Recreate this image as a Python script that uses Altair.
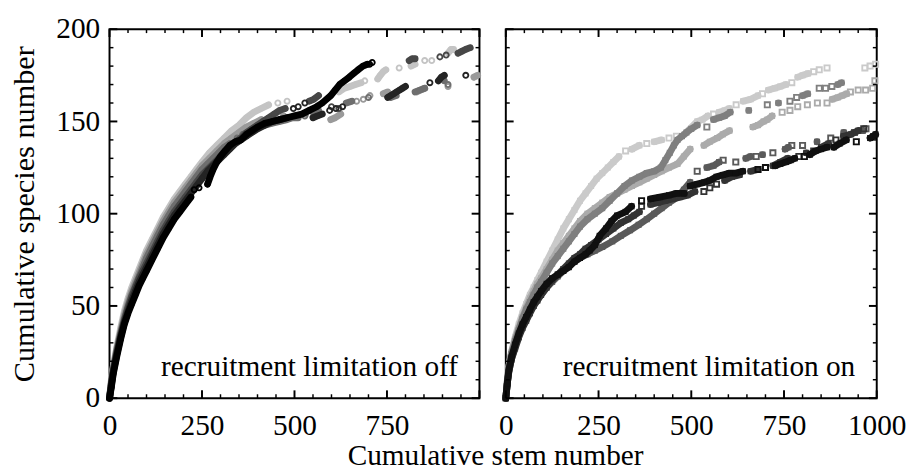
import altair as alt
import pandas as pd

# ---------------- data ----------------
X_MAJOR = [0, 250, 500, 750, 1000]
X_MINOR = [50, 100, 150, 200, 300, 350, 400, 450, 550, 600, 650, 700, 800, 850, 900, 950]
Y_MAJOR = [0, 50, 100, 150, 200]
Y_MINOR = [10, 20, 30, 40, 60, 70, 80, 90, 110, 120, 130, 140, 160, 170, 180, 190]
X_LABELS_LEFT = [0, 250, 500, 750]
X_LABELS_RIGHT = [0, 250, 500, 750, 1000]

ANNOT_LEFT = ["recruitment limitation off"]
ANNOT_RIGHT = ["recruitment limitation on"]
X_TITLE = "Cumulative stem number"
Y_TITLE = "Cumulative species number"

# flags: n = filled (new run), f = filled (continues run), o = open symbol
# ---- left panel (circles), recruitment limitation off ----
LA_x = [0,5,10,20,30,40,50,60,70,80,90,100,115,130,145,160,175,190,205,220,
        235,250,270,290,310,330,350,370,390,410,430, 455,480, 620,635,650,665,680,
        690, 725,732,740,747, 783, 815,826, 852,871, 915,923,930]
LA_y = [0,10,17,28,38,47,54,60,65,70,75,80,86,92,98,103,108,112,116,120,
        124,128,133,137,141,145,148,152,155,157,159, 160,161, 166,168,169,170,171,
        172, 173,175,177,178, 179, 180,181, 183,183, 187,189,189]
LA_f = "n" + "f"*30 + "oo" + "nffff" + "o" + "nfff" + "o" + "nf" + "oo" + "nff"

LB_x = [0,5,10,20,30,40,50,60,70,80,90,100,115,130,145,160,175,190,205,220,
        235,250,270,290,310,330,350,370,390,410, 440,470,500,530,560, 598,610,625,
        668,686,704, 740,752, 830,840,852, 915, 985,995]
LB_y = [0,9,16,27,36,45,52,58,63,68,73,78,84,90,96,101,106,110,114,118,
        122,126,130,134,138,141,144,147,149,151, 152,153,153,154,155, 151,152,154,
        161,162,164, 165,166, 166,167,168, 169, 174,175]
LB_f = "n" + "f"*29 + "ofofo" + "nff" + "ooo" + "nf" + "nff" + "o" + "nf"

LC_x = [0,5,10,20,30,40,50,60,70,80,90,100,115,130,145,160,175,190,205,220,
        235,250,265,280,295,310,325, 345,360, 380,400,420,440,460,480,495,510,
        528, 550,565, 640,655, 700, 760,775, 826,839,852, 905,915]
LC_y = [0,8,15,26,35,43,50,56,61,66,71,76,82,88,94,99,104,108,112,116,
        120,124,127,130,133,136,138, 141,143, 145,147,148,149,150,151,152,152,
        153, 155,156, 160,161, 163, 163,164, 166,167,168, 172,170]
LC_f = "n" + "f"*26 + "oo" + "nfffffff" + "o" + "nf" + "nf" + "o" + "nf" + "nff" + "no"

LD_x = [0,5,10,20,30,40,50,60,70,80,90,100,115,130,145,160,175,190,205,220,
        235,250,265,280,295,310,325,340,355,370,385,400,415,430,445,460,475,
        540,552,565, 600,620, 810,818,826, 893,910, 942,952,962,975]
LD_y = [0,8,15,25,34,42,49,55,60,65,69,73,79,85,91,96,101,105,109,113,
        117,121,124,127,130,133,136,139,141,144,146,148,150,152,154,156,157,
        161,162,164, 158,157, 183,184,184, 185,186, 187,188,189,190]
LD_f = "n" + "f"*36 + "nff" + "oo" + "nff" + "oo" + "nfff"

LE_x = [0,5,10,20,30,40,50,60,70,80,90,100,115,130,145,160,175,190,205,220,
        235,250,265,280,295,310,325,340,355,370,385,400,420,440,460,480,
        497,510,528, 550,562,575, 595,612,630, 752,760,768,776,784,792,800,
        866, 889,897,905, 963]
LE_y = [0,7,14,24,33,41,47,53,58,63,67,71,77,83,89,94,99,103,107,111,
        115,119,123,126,129,132,135,138,140,142,144,146,148,150,151,152,
        157,158,160, 152,153,154, 156,157,158, 163,164,165,166,167,168,169,
        171, 172,174,175, 175]
LE_f = "n" + "f"*35 + "ooo" + "nff" + "ooo" + "nffffff" + "o" + "nff" + "o"

LF_x = [0,5,10,20,30,40,50,60,70,80,90,100,115,130,145,160,175,190,205,220,
        229,242, 265,272,280,290,300,312,325,340,355,370,385,400,420,440,460,480,
        500,520,540,560,575,598,610,622,635,648,660,672,685,697, 703,710]
LF_y = [0,6,13,23,32,40,46,51,56,61,65,69,75,81,87,92,97,101,105,109,
        113,114, 116,120,124,128,131,134,137,139,140,143,145,147,149,150,151,152,
        153,154,156,158,160,164,167,170,172,174,176,178,180,181, 181,182]
LF_f = "n" + "f"*19 + "oo" + "n" + "f"*29 + "oo"

# ---- right panel (squares), recruitment limitation on ----
RA_x = [0,4,8,15,25,35,45,55,65,75,85,95,110,125,140,155,170,185,200,
        215,230,245,260,275,290,305, 323,340,360,380,400,420,440,460,481,
        516,530,545,560,575,590,603, 621,640,660,680,692, 708,725,740,755,771,
        787,800,815,830,845,866, 968,982,997]
RA_y = [0,10,17,25,33,40,46,51,56,60,64,68,74,80,86,92,97,102,107,
        111,115,119,122,125,128,131, 134,135,137,138,139,140,141,142,143,
        150,151,153,154,155,156,157, 159,161,162,164,165, 167,168,169,170,171,
        174,175,176,177,178,179, 179,180,181]
RA_f = "n" + "f"*25 + "onfonfoon" + "fffofff" + "offfo" + "nfffo" + "nffooo" + "ooo"

RB_x = [0,4,8,15,25,35,45,55,65,75,85,95,110,125,140,155,170,185,200,
        220,240,260,280,300,320,340,360,380,400,418,430,442,453,463,475,487,500,516,
        542, 560,575,590,605, 655, 705, 735, 766,784, 800,814, 845,862,879, 895,905]
RB_y = [0,9,16,24,31,37,43,48,52,56,60,63,68,73,77,81,85,89,93,
        97,100,103,107,111,115,118,120,122,123,125,129,133,137,140,142,144,146,148,
        147, 151,152,153,155, 156, 159, 160, 161,163, 164,165, 168,168,169, 170,171]
RB_f = "n" + "f"*37 + "o" + "nfff" + "n" + "o" + "n" + "oo" + "nf" + "ooo" + "nf"

RC_x = [0,4,8,15,25,35,45,55,65,75,85,95,110,125,140,155,170,185,200,
        220,240,260,280,300,320,340,360,380,400,420,440,463,480,497,
        534,550,570,585,603, 666,680,695,705,718, 745,766,787, 813,840,866,
        880,895,907,919, 929,950,970,989,995]
RC_y = [0,9,16,24,32,38,44,49,54,58,62,65,70,75,80,84,88,92,96,
        100,103,106,109,111,113,115,117,119,121,123,125,127,131,135,
        137,139,141,143,145, 147,148,150,151,153, 155,156,158, 159,160,160,
        162,163,164,165, 166,167,167,168,172]
RC_f = "n" + "f"*33 + "nffff" + "nffff" + "ooo" + "ooo" + "nfff" + "ooooo"

RD_x = [0,4,8,15,25,35,45,55,65,75,85,95,110,125,140,155,170,185,200,
        220,240,260,287,310,335,358,380,400,420,440,463,480,497,
        516, 542,560,575,586, 620, 647,660,675,692, 720, 753,762,771, 800, 839,
        876, 911, 940, 955,963,971]
RD_y = [0,8,14,21,28,34,39,43,47,50,53,56,60,63,66,69,72,74,76,
        78,80,82,85,88,91,94,97,100,103,106,109,113,117,
        123, 125,126,128,129, 128, 130,131,131,132, 133, 135,136,137, 137, 139,
        141, 144, 144, 145,145,146]
RD_f = "n" + "f"*32 + "o" + "nffo" + "o" + "nfof" + "o" + "nfo" + "o" + "n" + "o" + "n" + "o" + "nfo"

RE_x = [0,4,8,15,25,35,45,55,65,75,85,95,110,125,140,155,170,185,200,
        215,226,240,253,270,285,300,323,339, 366,390,415,440,460,481,
        497,516,535,550,568,585,603,620,639, 680,700, 726,740,755,768,779,
        805,820,835,850,866, 884,900,918, 945, 982,990,997]
RE_y = [0,8,15,22,29,35,40,44,48,52,55,58,62,65,67,69,71,74,76,
        78,80,83,88,92,96,99,101,104, 107,108,109,110,111,111,
        115,116,117,118,120,121,122,122,123, 124,125, 126,127,128,129,130,
        131,132,134,135,136, 136,138,140, 139, 141,142,143]
RE_f = "n" + "f"*27 + "offfff" + "nffffffff" + "oo" + "nffff" + "offff" + "nff" + "o" + "nff"

RF_x = [0,4,8,15,25,35,45,55,65,75,85,95,110,125,140,155,170,185,200,
        215,230,250,270,290,310,330,345,360, 366, 390,410,430,450,470,490,510,
        534,550,568, 590,610,630, 660,680,700,720,740,760,
        790,810,830,850,870,890,910,930,950,965]
RF_y = [0,8,14,21,27,33,38,42,46,50,53,56,60,64,67,70,73,76,78,
        81,83,86,89,92,95,97,99,101, 104, 105,106,107,108,109,110,112,
        112,114,116, 118,120,121, 123,124,125,126,128,130,
        131,133,134,136,138,140,142,143,145,146]
RF_f = "n" + "f"*27 + "o" + "nffffff" + "ooo" + "nff" + "nfofff" + "ofoffofffo"

LEFT_SERIES = [  # drawn light -> dark
    ("L1", "#c4c4c4", LA_x, LA_y, LA_f),
    ("L2", "#9a9a9a", LB_x, LB_y, LB_f),
    ("L3", "#6e6e6e", LC_x, LC_y, LC_f),
    ("L4", "#474747", LD_x, LD_y, LD_f),
    ("L5", "#242424", LE_x, LE_y, LE_f),
    ("L6", "#000000", LF_x, LF_y, LF_f),
]
RIGHT_SERIES = [
    ("R1", "#cacaca", RA_x, RA_y, RA_f),
    ("R2", "#ababab", RC_x, RC_y, RC_f),
    ("R3", "#7f7f7f", RB_x, RB_y, RB_f),
    ("R4", "#5a5a5a", RD_x, RD_y, RD_f),
    ("R5", "#333333", RF_x, RF_y, RF_f),
    ("R6", "#101010", RE_x, RE_y, RE_f),
]

# ---------------- chart ----------------
H = 378
W_LEFT = 379
W_RIGHT = 380
FONT = "Liberation Serif"
FS = 30


def series_frame(name, xs, ys, flags):
    n = min(len(xs), len(ys))
    flags = (flags + "f" * n)[:n]
    rows, run, prev = [], 0, None
    for i in range(n):
        f = flags[i]
        if f == "n" or (f == "f" and prev not in ("f", "n")):
            run += 1
        rows.append({"x": xs[i], "y": ys[i], "i": i,
                     "kind": "open" if f == "o" else "filled",
                     "run": f"{name}-{run}"})
        prev = f
    return pd.DataFrame(rows)


def panel(series, shape, width, x_label_values, y_axis, annot):
    xscale = alt.Scale(domain=[0, 1000], nice=False, zero=False)
    yscale = alt.Scale(domain=[0, 200], nice=False, zero=False)
    xaxis = alt.Axis(values=x_label_values, title=None, labelFlush=False, format="d",
                     labelPadding=13, grid=False, ticks=False, domain=False)
    X = alt.X("x:Q", scale=xscale, axis=xaxis)
    Y = alt.Y("y:Q", scale=yscale, axis=y_axis)
    layers = []
    for name, color, xs, ys, flags in series:
        df = series_frame(name, xs, ys, flags)
        base = alt.Chart(df)
        layers.append(base.transform_filter("datum.kind == 'filled'").mark_line(
            color=color, strokeWidth=7, strokeCap="round", strokeJoin="round").encode(
            x=X, y=Y, detail="run:N", order="i:Q"))
        layers.append(base.transform_filter("datum.kind == 'filled'").mark_point(
            shape=shape, filled=True, size=38, color=color, opacity=1).encode(x=X, y=Y))
        layers.append(base.transform_filter("datum.kind == 'open'").mark_point(
            shape=shape, filled=False, size=28, strokeWidth=1.9, color=color,
            opacity=1).encode(x=X, y=Y))
    # inward ticks on all four sides
    xmaj = alt.Chart(pd.DataFrame({"v": X_MAJOR}))
    xmin = alt.Chart(pd.DataFrame({"v": X_MINOR}))
    ymaj = alt.Chart(pd.DataFrame({"v": Y_MAJOR}))
    ymin = alt.Chart(pd.DataFrame({"v": Y_MINOR}))
    XV = alt.X("v:Q", scale=xscale, axis=xaxis)
    YV = alt.Y("v:Q", scale=yscale, axis=y_axis)
    for ch, ln, sw in ((xmaj, 8, 2), (xmin, 4, 1.5)):
        layers.append(ch.mark_rule(color="black", strokeWidth=sw).encode(
            x=XV, y=alt.value(H), y2=alt.value(H - ln)))
        layers.append(ch.mark_rule(color="black", strokeWidth=sw).encode(
            x=XV, y=alt.value(0), y2=alt.value(ln)))
    for ch, ln, sw in ((ymaj, 8, 2), (ymin, 4, 1.5)):
        layers.append(ch.mark_rule(color="black", strokeWidth=sw).encode(
            y=YV, x=alt.value(0), x2=alt.value(ln)))
        layers.append(ch.mark_rule(color="black", strokeWidth=sw).encode(
            y=YV, x=alt.value(width), x2=alt.value(width - ln)))
    layers.append(alt.Chart(pd.DataFrame({"t": annot})).mark_text(
        align="right", baseline="alphabetic", font=FONT, fontSize=FS,
        color="black").encode(x=alt.value(width - 22), y=alt.value(H - 23),
                              text="t:N"))
    return alt.layer(*layers).properties(width=width, height=H)


left_yaxis = alt.Axis(values=Y_MAJOR, title=Y_TITLE, labelPadding=10,
                      titlePadding=16, titleFontSize=31, grid=False, ticks=False,
                      domain=False)
left = panel(LEFT_SERIES, "circle", W_LEFT, X_LABELS_LEFT, left_yaxis, ANNOT_LEFT)
right = panel(RIGHT_SERIES, "square", W_RIGHT, X_LABELS_RIGHT, None, ANNOT_RIGHT)

chart = alt.hconcat(left, right, spacing=15).properties(
    padding={"left": 0, "top": 0, "right": 0, "bottom": 0},
    background="white",
    title=alt.TitleParams(X_TITLE, orient="bottom", anchor="middle", font=FONT,
                          fontSize=FS, fontWeight="normal", color="black",
                          offset=0, dx=39),
).configure_view(stroke="black", strokeWidth=2).configure_axis(
    labelFont=FONT, labelFontSize=FS, labelColor="black",
    titleFont=FONT, titleFontSize=FS, titleFontWeight="normal", titleColor="black",
)

chart.save("out.html", embed_options={"renderer": "svg", "actions": False})
